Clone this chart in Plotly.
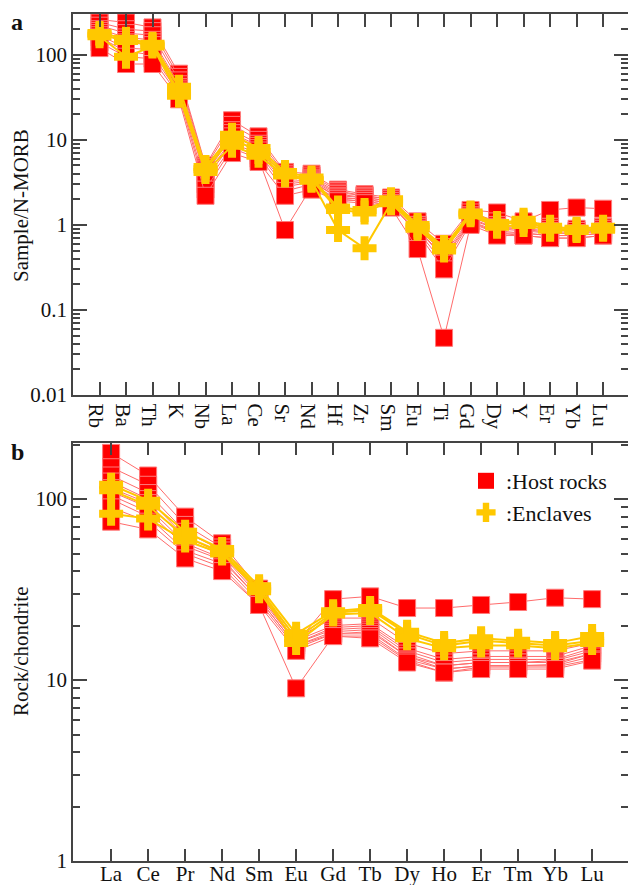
import plotly.graph_objects as go

# ---------------- data: panel a (N-MORB normalised) ----------------
elements_a = ["Rb", "Ba", "Th", "K", "Nb", "La", "Ce", "Sr", "Nd", "Hf",
              "Zr", "Sm", "Eu", "Ti", "Gd", "Dy", "Y", "Er", "Yb", "Lu"]

host_a = [
    [260, 240, 210, 60, 5.0, 17, 11, 4.2, 4.0, 2.6, 2.3, 2.1, 1.1, 0.6, 1.5, 1.4, 1.1, 1.5, 1.6, 1.55],
    [240, 200, 190, 55, 4.8, 15, 10, 4.0, 3.8, 2.5, 2.2, 2.0, 1.0, 0.55, 1.4, 1.1, 1.0, 0.95, 0.9, 0.95],
    [220, 180, 170, 50, 4.5, 13, 9.0, 3.8, 3.6, 2.4, 2.2, 2.0, 1.0, 0.5, 1.3, 1.0, 0.95, 0.9, 0.85, 0.9],
    [200, 160, 150, 45, 4.2, 12, 8.5, 3.5, 3.5, 2.3, 2.1, 1.9, 0.95, 0.5, 1.25, 0.95, 0.9, 0.85, 0.85, 0.9],
    [190, 150, 140, 42, 4.0, 11, 8.0, 3.2, 3.4, 2.2, 2.1, 1.9, 0.95, 0.45, 1.2, 0.9, 0.9, 0.8, 0.8, 0.85],
    [180, 140, 130, 40, 3.8, 10, 7.5, 3.0, 3.3, 2.1, 2.0, 1.8, 0.9, 0.42, 1.15, 0.9, 0.85, 0.8, 0.8, 0.85],
    [170, 120, 115, 38, 3.5, 9.0, 7.0, 2.8, 3.2, 2.1, 2.0, 1.8, 0.9, 0.4, 1.1, 0.85, 0.8, 0.75, 0.75, 0.8],
    [160, 110, 100, 35, 3.0, 8.5, 6.5, 2.5, 3.0, 2.0, 1.9, 1.7, 0.85, 0.35, 1.1, 0.8, 0.8, 0.75, 0.75, 0.8],
    [140, 95, 90, 33, 2.6, 8.0, 6.0, 0.87, 2.8, 2.0, 1.9, 1.7, 0.8, 0.3, 1.05, 0.8, 0.75, 0.7, 0.7, 0.75],
    [120, 78, 78, 30, 2.2, 7.0, 5.5, 2.2, 2.6, 1.9, 1.8, 1.6, 0.52, 0.047, 1.0, 0.75, 0.75, 0.7, 0.7, 0.75],
]

encl_a = [
    [180, 155, 135, 42, 4.8, 11.5, 8.0, 4.2, 3.6, 1.6, 1.5, 2.0, 1.0, 0.55, 1.4, 1.05, 1.15, 0.95, 0.9, 0.95],
    [175, 145, 130, 36, 4.5, 10.5, 7.2, 4.0, 3.4, 1.5, 1.4, 1.9, 0.95, 0.52, 1.35, 1.0, 1.1, 0.9, 0.88, 0.9],
    [165, 95, 125, 33, 4.2, 8.5, 6.5, 3.8, 3.3, 0.87, 0.53, 1.8, 0.9, 0.5, 1.3, 0.95, 1.0, 0.88, 0.85, 0.88],
]

# ---------------- data: panel b (chondrite normalised) ----------------
elements_b = ["La", "Ce", "Pr", "Nd", "Sm", "Eu", "Gd", "Tb", "Dy", "Ho",
              "Er", "Tm", "Yb", "Lu"]

host_b = [
    [180, 135, 80, 57, 32, 16.0, 28.0, 29.0, 25.0, 25.0, 26.0, 27.0, 28.5, 28.0],
    [150, 120, 72, 54, 31, 17.0, 22.0, 22.0, 16.0, 14.0, 14.5, 14.5, 14.5, 16.0],
    [135, 108, 66, 52, 30, 16.5, 20.0, 20.5, 15.0, 13.0, 13.5, 13.5, 13.5, 15.5],
    [125, 100, 62, 50, 30, 16.0, 19.5, 20.0, 14.5, 12.5, 13.0, 13.0, 13.0, 15.0],
    [115, 95, 60, 49, 29, 16.0, 19.0, 19.5, 14.0, 12.0, 12.5, 12.5, 12.8, 14.5],
    [110, 90, 57, 47, 28, 15.5, 18.5, 19.0, 13.5, 12.0, 12.5, 12.5, 12.5, 14.0],
    [105, 85, 55, 46, 28, 15.5, 18.0, 18.5, 13.5, 11.5, 12.0, 12.0, 12.2, 14.0],
    [100, 80, 52, 44, 27, 15.0, 18.0, 18.0, 13.0, 11.5, 12.0, 12.0, 12.0, 13.5],
    [90, 75, 50, 42, 26, 14.5, 17.5, 17.5, 12.8, 11.0, 11.8, 11.8, 11.8, 13.0],
    [75, 68, 47, 40, 26, 9.0, 17.5, 17.0, 12.5, 11.0, 11.5, 11.5, 11.5, 12.8],
]

encl_b = [
    [120, 98, 66, 53, 33, 18.0, 24.0, 25.0, 18.5, 16.0, 17.0, 16.5, 16.0, 17.5],
    [112, 92, 62, 51, 32, 17.0, 23.5, 24.5, 18.0, 15.5, 16.5, 16.0, 15.5, 16.5],
    [83, 78, 59, 50, 31, 16.0, 23.0, 23.5, 17.0, 15.0, 15.5, 15.5, 15.0, 16.0],
]

legend_labels = [":Host rocks", ":Enclaves"]
yticks_a = [0.01, 0.1, 1, 10, 100]
yticks_b = [1, 10, 100]

# ---------------- styles ----------------
RED = "#ff0000"
RED_LINE = "#ff6b6b"
YEL = "#ffc800"
FONT = "Liberation Serif"

fig = go.Figure()

def add_panel(xs, host, encl, xa, ya):
    for row in host:
        fig.add_trace(go.Scatter(
            x=xs, y=row, mode="lines+markers", xaxis=xa, yaxis=ya,
            line=dict(color=RED_LINE, width=1),
            marker=dict(symbol="square", size=17, color=RED,
                        line=dict(color="#ff7a7a", width=1)),
            showlegend=False, hoverinfo="skip"))
    for row in encl:
        fig.add_trace(go.Scatter(
            x=xs, y=row, mode="lines+markers", xaxis=xa, yaxis=ya,
            line=dict(color=YEL, width=2),
            marker=dict(symbol="cross", size=20, color=YEL,
                        line=dict(width=0)),
            showlegend=False, hoverinfo="skip"))

add_panel(elements_a, host_a, encl_a, "x", "y")
add_panel(elements_b, host_b, encl_b, "x2", "y2")

# legend entries (panel b)
fig.add_trace(go.Scatter(x=[None], y=[None], mode="markers", xaxis="x2", yaxis="y2",
                         name=legend_labels[0],
                         marker=dict(symbol="square", size=17, color=RED)))
fig.add_trace(go.Scatter(x=[None], y=[None], mode="markers", xaxis="x2", yaxis="y2",
                         name=legend_labels[1],
                         marker=dict(symbol="cross", size=20, color=YEL)))

H = 885
T, B = 14, 24
ph = H - T - B  # paper height in px
def py(px):
    return (H - B - px) / ph

def minor_vals(lo_exp, hi_exp):
    vals = []
    for e in range(lo_exp, hi_exp + 1):
        for m in range(2, 10):
            vals.append(m * 10 ** e)
    return vals

axis_common = dict(showline=True, linecolor="#444", linewidth=1.5,
                   ticks="inside", tickcolor="#444", tickwidth=1.5,
                   mirror="ticks", showgrid=False, zeroline=False,
                   tickfont=dict(family=FONT, size=21, color="#111"))

fig.update_layout(
    width=628, height=H,
    margin=dict(l=73, r=0, t=T, b=B, autoexpand=False),
    paper_bgcolor="white", plot_bgcolor="white",
    font=dict(family=FONT, size=21, color="#111"),
    xaxis=dict(domain=[0, 1], anchor="y", type="category",
               range=[-1, 19.94], ticklen=13, ticklabelstandoff=-8, **axis_common),
    yaxis=dict(domain=[py(395), 1], anchor="x", type="log",
               range=[-2, 2.48], tickvals=yticks_a,
               ticktext=["0.01", "0.1", "1", "10", "100"], ticklen=14,
               minor=dict(tickvals=minor_vals(-2, 2), ticks="inside",
                          ticklen=7, tickcolor="#444", tickwidth=1.5),
               **axis_common),
    xaxis2=dict(domain=[0, 1], anchor="y2", type="category",
                range=[-1.03, 13.97], ticklen=12, ticklabelstandoff=-7, **axis_common),
    yaxis2=dict(domain=[0, py(443)], anchor="x2", type="log",
                range=[0, 2.31], tickvals=yticks_b,
                ticktext=["1", "10", "100"], ticklen=14,
                minor=dict(tickvals=minor_vals(0, 2), ticks="inside",
                           ticklen=7, tickcolor="#444", tickwidth=1.5),
                **axis_common),
    showlegend=True,
    legend=dict(x=(466 - 73) / 555, y=py(460), xanchor="left", yanchor="top",
                bgcolor="rgba(0,0,0,0)", borderwidth=0,
                font=dict(family=FONT, size=22, color="#111"),
                itemwidth=30, tracegroupgap=0),
    annotations=[
        dict(text="<b>a</b>", x=(17 - 73) / 555, y=py(22), xref="paper", yref="paper",
             xanchor="center", yanchor="middle",
             showarrow=False, font=dict(family=FONT, size=24, color="#111")),
        dict(text="<b>b</b>", x=(17 - 73) / 555, y=py(452), xref="paper", yref="paper",
             xanchor="center", yanchor="middle",
             showarrow=False, font=dict(family=FONT, size=24, color="#111")),
        dict(text="Sample/N-MORB", x=(21 - 73) / 555, y=py(206), xref="paper", yref="paper",
             xanchor="center", yanchor="middle",
             showarrow=False, textangle=-90, font=dict(family=FONT, size=21, color="#111")),
        dict(text="Rock/chondrite", x=(21 - 73) / 555, y=py(652), xref="paper", yref="paper",
             xanchor="center", yanchor="middle",
             showarrow=False, textangle=-90, font=dict(family=FONT, size=21, color="#111")),
    ],
)

fig.write_html("out.html", config={"displayModeBar": False},
               post_script="document.body.style.margin='0px';document.body.style.overflow='hidden';")
